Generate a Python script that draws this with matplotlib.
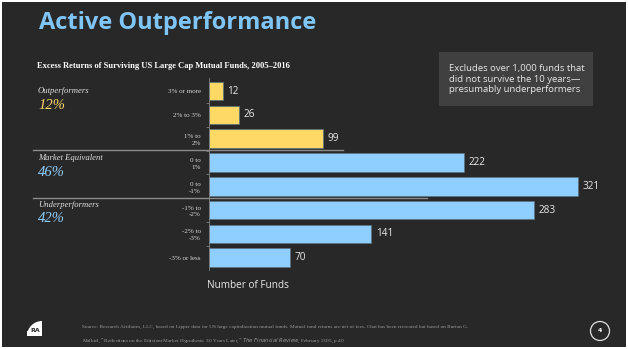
import numpy as np
import matplotlib.pyplot as plt
from matplotlib.patches import Rectangle, Circle, Wedge
from matplotlib.lines import Line2D

# datos
categorias = ['3% or more', '2% to 3%', '1% to\n2%', '0 to\n1%', '0 to\n-1%',
              '-1% to\n-2%', '-2% to\n-3%', '-3% or less']
fondos = [12, 26, 99, 222, 321, 283, 141, 70]
grupos = ['Outperformers', 'Outperformers', 'Outperformers', 'Market Equivalent',
          'Market Equivalent', 'Underperformers', 'Underperformers', 'Underperformers']
grupo_nombres = ['Outperformers', 'Market Equivalent', 'Underperformers']
grupo_pct = ['12%', '46%', '42%']

W, H = 628, 349
BG = '#282828'
ORO = '#ffd966'
AZUL = '#8fcfff'
colores = {'Outperformers': ORO, 'Market Equivalent': AZUL, 'Underperformers': AZUL}

def fx(px):
    return px / W

def fy(py):
    return 1 - py / H

fig = plt.figure(figsize=(W / 100, H / 100), dpi=100, facecolor='white')
fig.patches.append(Rectangle((fx(2), fy(347)), fx(624), 345 / H, transform=fig.transFigure,
                             facecolor=BG, edgecolor='none', zorder=-5))

# titulo
fig.text(fx(39), fy(23), 'Active Outperformance', fontsize=17, fontweight='bold',
         family='Open Sans', color='#7fc6f7', va='center', ha='left')
fig.text(fx(37), fy(66), 'Excess Returns of Surviving US Large Cap Mutual Funds, 2005\u20132016',
         fontsize=6.1, fontweight='bold', family='Liberation Serif', color='white',
         va='center', ha='left')

# caja de nota
fig.patches.append(Rectangle((fx(439), fy(106)), fx(154), 54 / H, transform=fig.transFigure,
                             facecolor='#404040', edgecolor='none', zorder=-4))
fig.text(fx(449), fy(79), 'Excludes over 1,000 funds that\ndid not survive the 10 years\u2014\npresumably underperformers',
         fontsize=6.8, family='Open Sans', color='#e8e8e8', va='center', ha='left',
         linespacing=1.25)

# eje de barras
ax = fig.add_axes([fx(209), fy(270), fx(414), 192 / H])
ax.set_facecolor('none')
y = np.arange(len(fondos))
ax.barh(y, fondos, height=0.78, color=[colores[g] for g in grupos],
        edgecolor='#5a7080', linewidth=0.5)
for i, v in enumerate(fondos):
    ax.text(v + 4, i, str(v), va='center', ha='left', fontsize=7.2,
            family='Open Sans', color='#e8e8e8')
ax.set_xlim(0, 360)
ax.set_ylim(7.52, -0.55)
ax.set_xticks([])
ax.set_yticks(y)
ax.set_yticklabels(categorias, fontsize=5, family='Liberation Serif', color='#d8d8d8',
                   linespacing=1.45)
ax.set_yticks(np.arange(len(fondos) - 1) + 0.5, minor=True)
ax.tick_params(axis='y', which='major', length=0, pad=6)
ax.tick_params(axis='y', which='minor', length=2.5, color='#808080', width=0.6)
for s in ['top', 'right', 'bottom']:
    ax.spines[s].set_visible(False)
ax.spines['left'].set_color('#808080')
ax.spines['left'].set_linewidth(0.6)

# etiquetas de grupo
posiciones = [91, 158, 205]
colores_pct = [ORO, AZUL, AZUL]
for nombre, pct, py, c in zip(grupo_nombres, grupo_pct, posiciones, colores_pct):
    fig.text(fx(38), fy(py), nombre, fontsize=6.2, style='italic', family='Liberation Serif',
             color='#e0e0e0', va='center', ha='left')
    fig.text(fx(38), fy(py + 14), pct, fontsize=10.5, style='italic', family='Liberation Serif',
             color=c, va='center', ha='left')

# separadores
fig.lines.append(Line2D([fx(33), fx(343)], [fy(150), fy(150)], transform=fig.transFigure,
                        color='#8a8a8a', linewidth=1.0))
fig.lines.append(Line2D([fx(33), fx(427)], [fy(197.5), fy(197.5)], transform=fig.transFigure,
                        color='#8a8a8a', linewidth=1.0))

fig.text(fx(248), fy(286), 'Number of Funds', fontsize=7.2, family='Open Sans',
         color='#e8e8e8', va='center', ha='center')

# pie
fig.text(fx(82), fy(327),
         'Source: Research Affiliates, LLC, based on Lipper data for US large capitalization mutual funds. '
         'Mutual fund returns are net of fees. Chat has been recreated but based on Burton G.',
         fontsize=3.8, family='Liberation Serif', color='#9a9a9a', va='center', ha='left')
fig.text(fx(82), fy(340),
         'Malkiel, \u201cReflections on the Efficient Market Hypothesis: 30 Years Later,\u201d '
         '$\\it{The\\ Financial\\ Review}$, February 2005, p.40.',
         fontsize=3.8, family='Liberation Serif', color='#9a9a9a', va='center', ha='left')

# logo y numero de pagina
ax2 = fig.add_axes([0, 0, 1, 1])
ax2.set_xlim(0, W)
ax2.set_ylim(H, 0)
ax2.axis('off')
ax2.add_patch(Wedge((42, 336), 15, 180, 270, facecolor='white', edgecolor='none'))
ax2.add_patch(Rectangle((27, 331), 15, 5, facecolor='white', edgecolor='none'))
ax2.text(35, 331, 'RA', fontsize=4.5, fontweight='bold', color=BG, ha='center', va='center')
ax2.add_patch(Circle((600, 331), 9.5, facecolor='none', edgecolor='#e0e0e0', linewidth=0.9))
ax2.text(600, 331, '4', fontsize=4.5, fontweight='bold', color='white', ha='center', va='center')

fig.savefig('out.png', dpi=100, facecolor='white')
